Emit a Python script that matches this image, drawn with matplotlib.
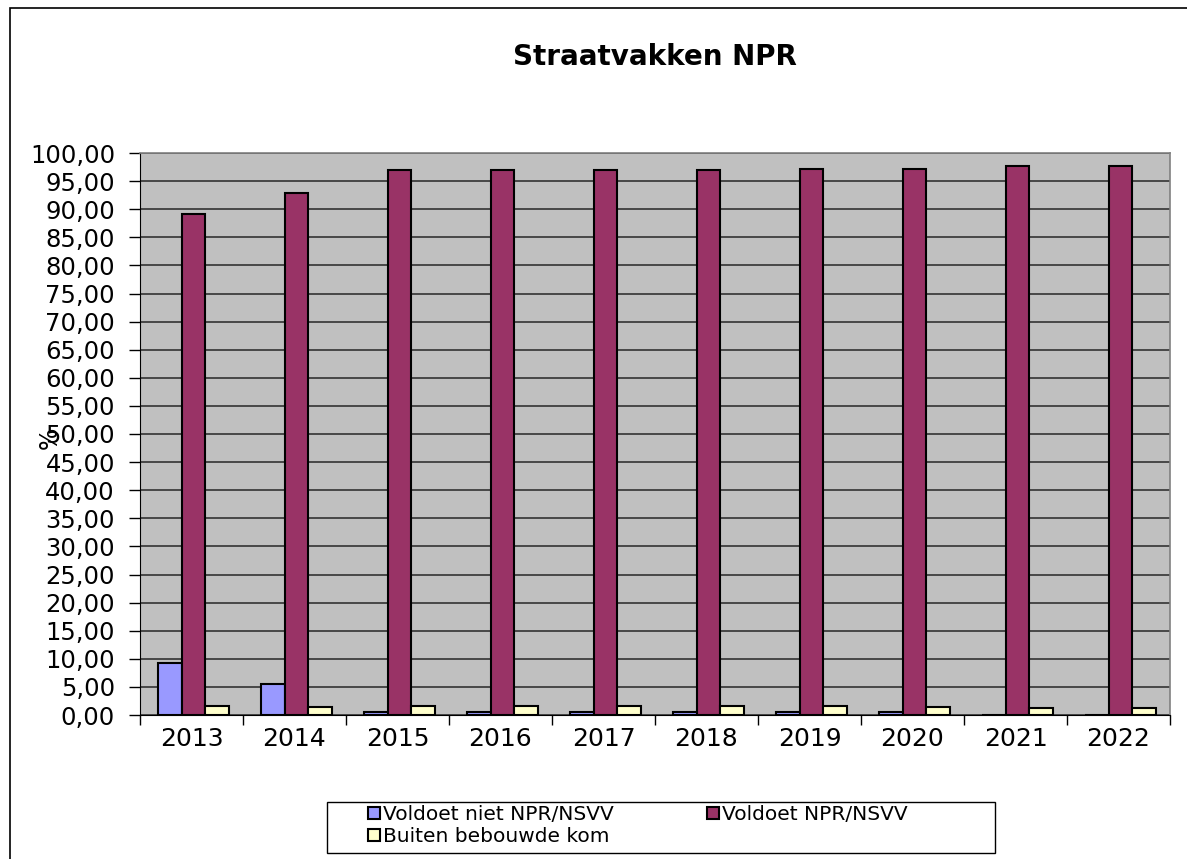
import matplotlib
matplotlib.use("Agg")
import matplotlib.pyplot as plt
import numpy as np
from matplotlib.patches import Rectangle

years = ["2013", "2014", "2015", "2016", "2017", "2018", "2019", "2020", "2021", "2022"]
niet_npr = [9.3, 5.6, 0.5, 0.5, 0.5, 0.5, 0.5, 0.5, 0.0, 0.0]
wel_npr = [89.1, 92.9, 96.9, 96.9, 96.9, 97.0, 97.1, 97.1, 97.6, 97.6]
buiten = [1.6, 1.5, 1.6, 1.6, 1.6, 1.6, 1.6, 1.5, 1.3, 1.3]
labels = ["Voldoet niet NPR/NSVV", "Voldoet NPR/NSVV", "Buiten bebouwde kom"]
colors = ["#9999FF", "#993366", "#FFFFCC"]

plt.rcParams['font.family'] = ['DejaVu Sans']

W, H = 1187, 859
fig = plt.figure(figsize=(W / 100, H / 100), dpi=100)
fig.patch.set_facecolor("white")

# outer chart border
fig.patches.append(Rectangle((10 / W, -0.1), 1.2, 1 - 8 / H + 0.1, transform=fig.transFigure,
                             fill=False, edgecolor="black", linewidth=1.2))

ax = fig.add_axes([140 / W, 1 - 715 / H, 1030 / W, (715 - 153) / H])
ax.set_facecolor("#C0C0C0")

x = np.arange(len(years))
bw = 0.23
series = [niet_npr, wel_npr, buiten]
handles = []
for i, (vals, lab, col) in enumerate(zip(series, labels, colors)):
    b = ax.bar(x + (i - 1) * bw + 0.02, vals, width=bw, color=col, edgecolor="black",
               linewidth=1.5, label=lab, zorder=3)
    handles.append(b)

ax.set_xlim(-0.5, len(years) - 0.5)
ax.set_ylim(0, 100)
ax.set_yticks(np.arange(0, 101, 5))
ax.set_yticklabels([f"{v:.2f}".replace(".", ",") for v in np.arange(0, 101, 5)], fontsize=17.5)
ax.set_xticks(x)
ax.set_xticklabels(years, fontsize=18)
ax.set_xticks(np.arange(-0.5, len(years)), minor=True)
ax.tick_params(axis="x", which="major", length=0, pad=9)
ax.tick_params(axis="x", which="minor", length=7, width=1, direction="out")
ax.tick_params(axis="y", length=8, width=1, direction="out", pad=10)
ax.yaxis.grid(True, color="#333333", linewidth=1.2, zorder=0)
ax.set_axisbelow(True)
for s in ["top", "right"]:
    ax.spines[s].set_color("#808080")
    ax.spines[s].set_linewidth(1.2)
ax.spines["left"].set_color("black")
ax.spines["bottom"].set_color("black")

fig.text(50 / W, 1 - 438 / H, "%", rotation=90, ha="center", va="center", fontsize=17)

fig.text(655 / W, 1 - 57 / H, "Straatvakken NPR", ha="center", va="center",
         fontsize=20, fontweight="bold")

# legend box
fig.patches.append(Rectangle((327 / W, 1 - 853 / H), (995 - 327) / W, (853 - 802) / H,
                             transform=fig.transFigure, fill=False, edgecolor="black",
                             linewidth=1.0))
order = [0, 2, 1]
leg = fig.legend([handles[i] for i in order], [labels[i] for i in order],
                 loc="upper left", bbox_to_anchor=(364 / W, 1 - 801 / H), ncol=2, frameon=False,
                 fontsize=14.5, handlelength=0.6, handleheight=0.6, handletextpad=0.15,
                 columnspacing=4.6, borderpad=0.2, labelspacing=0.15, borderaxespad=0)
for p in leg.get_patches():
    p.set_linewidth(1.5)

fig.savefig("out.png", dpi=100)
